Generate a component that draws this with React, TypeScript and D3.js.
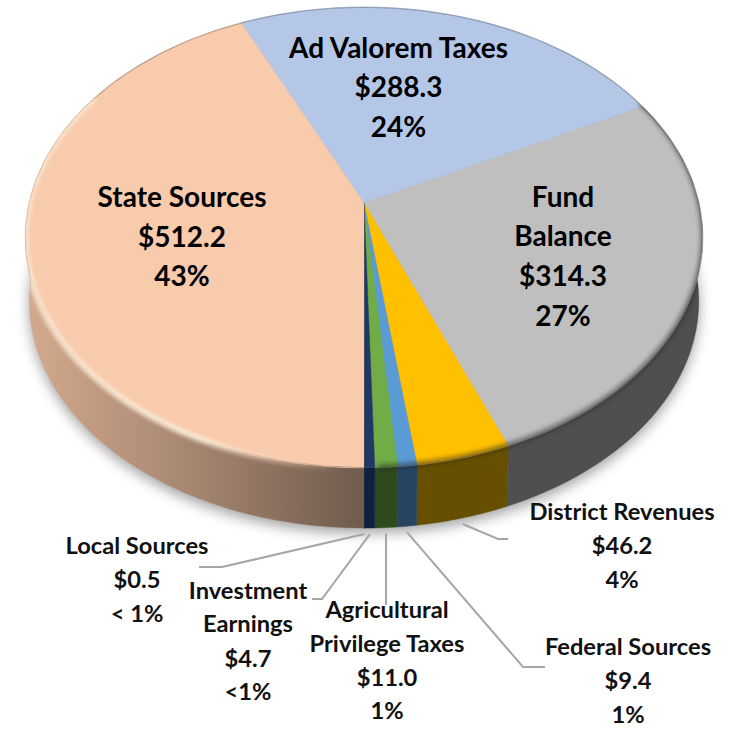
import React from "react";
import * as d3 from "d3";

const categories = ["Ad Valorem Taxes", "Fund Balance", "District Revenues", "Federal Sources", "Agricultural Privilege Taxes", "Investment Earnings", "Local Sources", "State Sources"];
const values = [288.3, 314.3, 46.2, 9.4, 11.0, 4.7, 0.5, 512.2];
const topColors = ["#b4c7e7", "#bfbfbf", "#ffc000", "#5b9bd5", "#70ad47", "#203864", "#1a2c4e", "#f8cbad"];
const sideColors = ["#6c7788", "#4f4f4f", "#665000", "#254561", "#2f4a1f", "#0f2040", "#0f2040", "url(#stateSide)"];

// Perspective of the disc: maps a pie angle on to the screen
const apex = { x: 364, y: 203 };
const topDisc = { a: 335, b: 225.3, y0: 203, k: 0.1497 };
const lowDisc = { a: 331, b: 222, y0: 267, k: 0.1497 };
type Disc = typeof topDisc;
const project = (t: number, d: Disc): [number, number] => {
  const u = Math.sin(t), v = Math.cos(t), w = 1 + d.k * v;
  return [apex.x + (d.a * u) / w, d.y0 - (d.b * v) / w];
};
const deg = (x: number) => (x * Math.PI) / 180;
const sample = (t0: number, t1: number, d: Disc) =>
  d3.range(0, 61).map((i) => project(t0 + ((t1 - t0) * i) / 60, d));

const pieGen = d3.pie<number>().sort(null).startAngle(deg(-24.6)).endAngle(deg(335.4));
const arcs = pieGen(values);
const line = d3.line();

type Lab = { x: number; lines: [string, number][]; };
const FS_IN = 28;
const FS_OUT = 23.7;
const insideLabels: Lab[] = [
  { x: 398.5, lines: [["Ad Valorem Taxes", 58], ["$288.3", 97], ["24%", 137]] },
  { x: 182, lines: [["State Sources", 207], ["$512.2", 247], ["43%", 286]] },
  { x: 563, lines: [["Fund", 207], ["Balance", 246], ["$314.3", 286], ["27%", 326]] },
];
const outsideLabels: Lab[] = [
  { x: 622, lines: [["District Revenues", 520], ["$46.2", 554], ["4%", 588]] },
  { x: 628, lines: [["Federal Sources", 655], ["$9.4", 689], ["1%", 723]] },
  { x: 137, lines: [["Local Sources", 554], ["$0.5", 588], ["< 1%", 622]] },
  { x: 248, lines: [["Investment", 599], ["Earnings", 632], ["$4.7", 667], ["<1%", 700]] },
  { x: 387, lines: [["Agricultural", 618], ["Privilege Taxes", 652], ["$11.0", 686], ["1%", 719]] },
];
// category index -> elbow and end of its leader line
const leaders: [number, [number, number][]][] = [
  [6, [[222, 567], [199, 567]]],
  [5, [[322, 599], [312, 599]]],
  [4, [[386, 605]]],
  [3, [[523, 667], [545, 667]]],
  [2, [[498, 539], [508, 539]]],
];

const rim = line(sample(0, Math.PI * 2, topDisc))! + "Z";
const lowRim = line(sample(0, Math.PI * 2, lowDisc))! + "Z";

export default function App() {
  return (
    <svg width={743} height={731} style={{ position: "absolute", left: 0, top: 0, background: "#fff" }} fontFamily="Lato, Carlito, sans-serif">
      <defs>
        <linearGradient id="stateSide" gradientUnits="userSpaceOnUse" x1={30} x2={365} y1={0} y2={0}>
          <stop offset="0" stopColor="#d2a98c" />
          <stop offset="0.45" stopColor="#a98873" />
          <stop offset="1" stopColor="#6f5b4c" />
        </linearGradient>
        <linearGradient id="glow" gradientUnits="userSpaceOnUse" x1={25} x2={340} y1={0} y2={0}>
          <stop offset="0" stopColor="#fff0dc" stopOpacity={0.9} />
          <stop offset="0.55" stopColor="#fff4e2" stopOpacity={1} />
          <stop offset="0.85" stopColor="#f8cbad" stopOpacity={0.5} />
          <stop offset="1" stopColor="#f8cbad" stopOpacity={0} />
        </linearGradient>
        <filter id="shadow" x="-10%" y="-10%" width="120%" height="120%"><feGaussianBlur stdDeviation="7" /></filter>
        <filter id="soft" x="-10%" y="-10%" width="120%" height="120%"><feGaussianBlur stdDeviation="2" /></filter>
        <clipPath id="topClip"><path d={rim} /></clipPath>
        <clipPath id="bodyClip"><path d={rim} /><path d={lowRim} /></clipPath>
      </defs>
      <path d={lowRim} fill="#000" opacity={0.38} transform="translate(0,5)" filter="url(#shadow)" />
      {arcs.map((a, i) => {
        const pts = [...sample(a.startAngle, a.endAngle, topDisc), ...sample(a.endAngle, a.startAngle, lowDisc)];
        return <path key={i} d={line(pts)! + "Z"} fill={sideColors[i]} stroke={sideColors[i]} strokeWidth={0.4} />;
      })}
      {arcs.map((a, i) => (
        <path key={i} d={line([[apex.x, apex.y], ...sample(a.startAngle, a.endAngle, topDisc)])! + "Z"} fill={topColors[i]} stroke={topColors[i]} strokeWidth={0.4} />
      ))}
      <g clipPath="url(#topClip)">
        <path d={rim} fill="none" stroke="#666" strokeWidth={1.5} opacity={0.5} />
      </g>
      <g clipPath="url(#bodyClip)">
        <path d={line(sample(deg(180), deg(300), topDisc))!} fill="none" stroke="url(#glow)" strokeWidth={5} filter="url(#soft)" />
        <path d={line(sample(deg(62), deg(178), topDisc))!} fill="none" stroke="#222" strokeWidth={5} opacity={0.5} filter="url(#soft)" transform="translate(0,-1)" />
      </g>
      {leaders.map(([idx, pts]) => {
        const mid = (arcs[idx].startAngle + arcs[idx].endAngle) / 2;
        const [x, y] = project(mid, lowDisc);
        return <path key={idx} d={line([[x, y + 6], ...pts])!} fill="none" stroke="#a6a6a6" strokeWidth={2} />;
      })}
      {insideLabels.map((l, i) => l.lines.map(([t, y], j) => (
        <text key={`${i}-${j}`} x={l.x} y={y} textAnchor="middle" fontSize={FS_IN} fontWeight={700} fill="#000">{t}</text>
      )))}
      {outsideLabels.map((l, i) => l.lines.map(([t, y], j) => (
        <text key={`${i}-${j}`} x={l.x} y={y} textAnchor="middle" fontSize={FS_OUT} fontWeight={700} fill="#111">{t}</text>
      )))}
      <title>{categories.join(", ")}</title>
    </svg>
  );
}
